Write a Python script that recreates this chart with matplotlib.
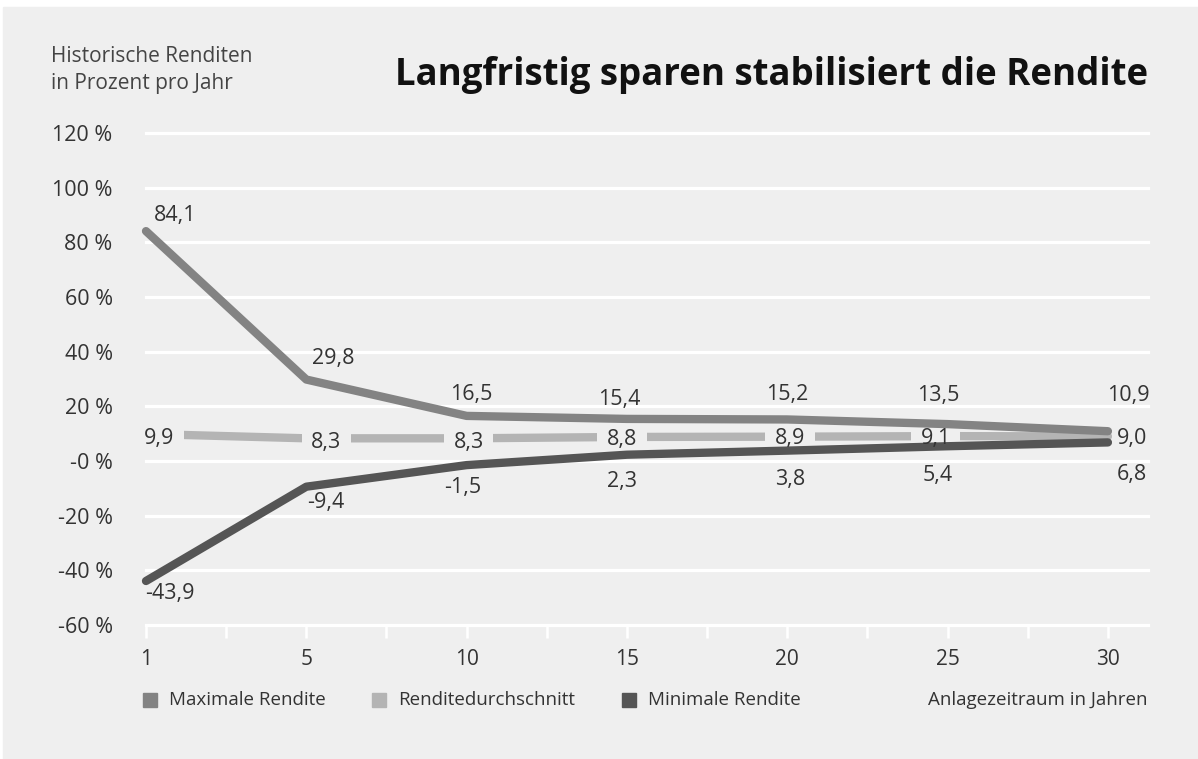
import matplotlib.pyplot as plt
from matplotlib.patches import Rectangle

years = ["1", "5", "10", "15", "20", "25", "30"]
max_rendite = [84.1, 29.8, 16.5, 15.4, 15.2, 13.5, 10.9]
avg_rendite = [9.9, 8.3, 8.3, 8.8, 8.9, 9.1, 9.0]
min_rendite = [-43.9, -9.4, -1.5, 2.3, 3.8, 5.4, 6.8]
y_ticks = [-60, -40, -20, 0, 20, 40, 60, 80, 100, 120]
y_ticklabels = ["-60 %", "-40 %", "-20 %", "-0 %", "20 %", "40 %",
                "60 %", "80 %", "100 %", "120 %"]
series_names = ["Maximale Rendite", "Renditedurchschnitt", "Minimale Rendite"]

# label offsets in pixels (dx, dy of the text centre, dy up)
max_off = [(29, 18), (27, 23), (5, 23), (-8, 21), (0, 27), (-9, 31), (20, 38)]
avg_off = [(13, -3), (20, -2), (2, -2), (-5, -1), (3, 0), (-12, 0), (24, 0)]
min_off = [(24, -11), (19, -14), (-4, -20), (-5, -25), (3, -27), (-10, -27), (24, -30)]

bg = "#efefef"
c_max = "#838383"
c_avg = "#b4b4b4"
c_min = "#555555"
txt = "#333333"

plt.rcParams["font.family"] = ["Open Sans", "DejaVu Sans"]
plt.rcParams["axes.axisbelow"] = False  # grid at zorder 2.5

W, H = 1198, 759
fig = plt.figure(figsize=(W / 100, H / 100), dpi=100, facecolor="white")
fig.patches.append(Rectangle((3 / W, 0), 1, 1 - 7 / H, transform=fig.transFigure,
                             color=bg, zorder=-10))

ax = fig.add_axes([146 / W, 1 - 625 / H, (1148 - 146) / W, (625 - 133) / H])
ax.set_facecolor("none")
for s in ax.spines.values():
    s.set_visible(False)

x = list(range(len(years)))
ax.set_xlim(0, 6.25)
ax.set_ylim(-60, 120)

ax.set_yticks(y_ticks, y_ticklabels)
ax.grid(axis="y", color="white", lw=2.3, clip_on=False)
ax.tick_params(axis="y", length=0, pad=24, labelsize=15.5, labelcolor=txt)

ax.set_xticks(x, years)
ax.set_xticks([i + 0.5 for i in x[:-1]], minor=True)
ax.tick_params(axis="x", which="both", direction="out", length=9, width=1.8,
               color="white", pad=8, labelsize=15, labelcolor=txt)

# mean line and its label knockouts sit under the grid, max/min above it
style = dict(lw=6, solid_capstyle="round", solid_joinstyle="round", clip_on=False)
ax.plot(x, avg_rendite, color=c_avg, zorder=1, **style)
ax.plot(x, max_rendite, color=c_max, zorder=4, **style)
ax.plot(x, min_rendite, color=c_min, zorder=4, **style)


def label(xi, yi, s, off, knockout=False):
    dx, dy = off
    kw = dict(xy=(xi, yi), xytext=(dx, dy - 7.5), textcoords="offset pixels",
              ha="center", va="baseline", fontsize=15.5, annotation_clip=False)
    if knockout:
        ax.annotate(s, color="none", zorder=1.5,
                    bbox=dict(boxstyle="square,pad=0.45", fc=bg, ec="none"), **kw)
    ax.annotate(s, color=txt, zorder=6, **kw)


def fmt(v):
    return f"{v:.1f}".replace(".", ",")


for i in x:
    label(i, max_rendite[i], fmt(max_rendite[i]), max_off[i])
    label(i, avg_rendite[i], fmt(avg_rendite[i]), avg_off[i], knockout=i < len(x) - 1)
    label(i, min_rendite[i], fmt(min_rendite[i]), min_off[i])

# header texts
fig.text(51 / W, 1 - 57 / H, "Historische Renditen", fontsize=15, color="#444444",
         ha="left", va="center")
fig.text(51 / W, 1 - 83 / H, "in Prozent pro Jahr", fontsize=15, color="#444444",
         ha="left", va="center")

title = fig.text(1148 / W, 1 - 85 / H, "Langfristig sparen stabilisiert die Rendite",
                 fontsize=26, fontweight="bold", color="#111111",
                 ha="right", va="baseline")
r = fig.canvas.get_renderer()
tw = title.get_window_extent(r).width
title.set_fontsize(26 * 756 / tw)

# legend
colors = [c_max, c_avg, c_min]
sq_x = [143, 372, 622]
for name, c, sx in zip(series_names, colors, sq_x):
    fig.patches.append(Rectangle((sx / W, 1 - 707 / H), 14 / W, 14 / H,
                                 transform=fig.transFigure, color=c))
    fig.text((sx + 26) / W, 1 - 700 / H, name, fontsize=13.5, color=txt,
             ha="left", va="center")
fig.text(1148 / W, 1 - 700 / H, "Anlagezeitraum in Jahren", fontsize=13.5, color=txt,
         ha="right", va="center")

fig.savefig("out.png", dpi=100, facecolor=fig.get_facecolor())
